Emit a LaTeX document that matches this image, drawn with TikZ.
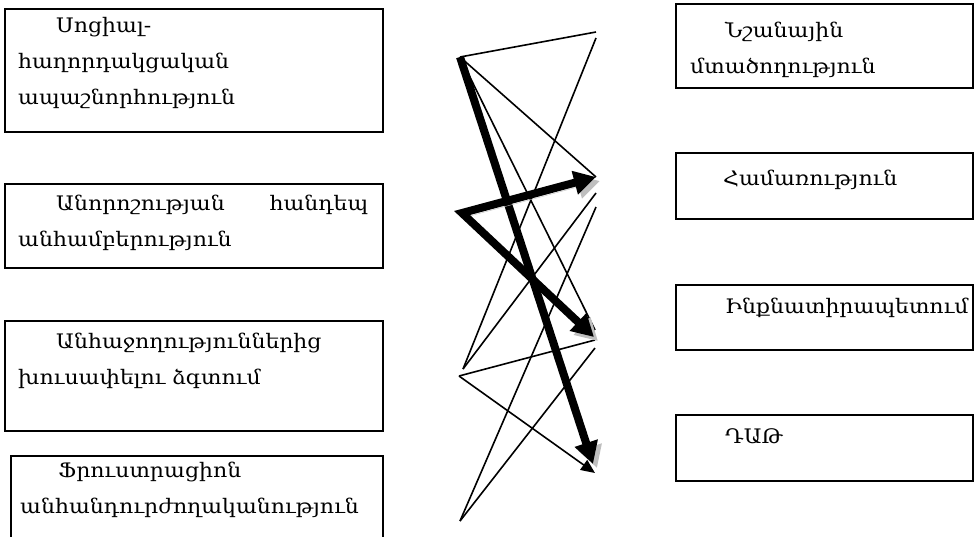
\documentclass[tikz,border=0pt]{standalone}
\usepackage{fontspec}
\newfontfamily\armfont[FakeStretch=1.1]{DejaVu Serif}
\usetikzlibrary{arrows.meta,positioning}

\tikzset{
  box/.style={draw, line width=2.3pt, anchor=north west, inner sep=0pt},
  txt/.style={anchor=base west, inner sep=0pt, align=left,
    font=\armfont\fontsize{20}{36}\selectfont},
  link/.style={line width=1.6pt},
  bigarrow/.style={line width=8pt,
    preaction={draw=gray!50, transform canvas={shift={(4pt,-4pt)}}}},
}

\begin{document}
\begin{tikzpicture}[x=1pt,y=-1pt]
    \useasboundingbox (0,0) rectangle (976,536);
    \def\ind{\hspace*{38pt}}
    % boxes on the left
    \node[box, minimum width=378pt, minimum height=123pt] (soc) at (4,8) {};
    \node[box, minimum width=378pt, minimum height=84pt] (anor) at (4,183) {};
    \node[box, minimum width=378pt, minimum height=110pt] (anha) at (4,320) {};
    \node[box, minimum width=372pt, minimum height=95pt] (fru) at (10,455) {};
    \node[txt, text width=350pt] (soct) at (18,32) {\ind Սոցիալ-\\հաղորդակցական\\ապաշնորհություն};
    \node[txt, text width=350pt] (anort) at (18,210) {\ind Անորոշության\hfill հանդեպ\\անհամբերություն};
    \node[txt, text width=350pt] (anhat) at (18,348) {\ind Անհաջողություններից\\խուսափելու ձգտում};
    \node[txt, text width=350pt] (frut) at (20,477) {\ind Ֆրուստրացիոն\\անհանդուրժողականություն};
    % boxes on the right
    \node[box, minimum width=297pt, minimum height=84pt] (nsh) at (675,3) {};
    \node[box, minimum width=297pt, minimum height=66pt] (ham) at (675,152) {};
    \node[box, minimum width=297pt, minimum height=65pt] (inq) at (675,284) {};
    \node[box, minimum width=297pt, minimum height=66pt] (dat) at (675,414) {};
    \node[txt, text width=270pt] (nsht) at (690,37) {\hspace*{35pt}Նշանային\\մտածողություն};
    \node[txt] (hamt) at (723,185) {Համառություն};
    \node[txt] (inqt) at (725,313) {Ինքնատիրապետում};
    \node[txt] (datt) at (725,443) {ԴԱԹ};
    % end points of the links
    \coordinate (a1) at (460,57);
    \coordinate (a2) at (462,213);
    \coordinate (a3t) at (463,369);
    \coordinate (a3) at (459,376);
    \coordinate (a4) at (460,521);
    \coordinate (b1t) at (596,32);
    \coordinate (b1) at (596,38);
    \coordinate (b2) at (596,177);
    \coordinate (b2m) at (596,193);
    \coordinate (b2l) at (596,207);
    \coordinate (b3t) at (595,330);
    \coordinate (b3) at (594,337);
    \coordinate (b3m) at (595,340);
    \coordinate (b3l) at (595,348);
    \coordinate (b4) at (593,464);
    \coordinate (b4t) at (595,473);
    \draw[link] (a1) -- (b1t);
    \draw[link] (a1) -- (b2);
    \draw[link] (a1) -- (b3t);
    \draw[link] (b1) -- (a3t);
    \draw[link] (b2m) -- (a3t);
    \draw[link] (b2l) -- (a4);
    \draw[link] (b3l) -- (a4);
    \draw[link] (a3) -- (b3m);
    \draw[link, -{Triangle[length=14pt,width=12pt]}] (a3) -- (b4t);
    \draw[bigarrow, -{Triangle[length=22pt,width=23pt]}] (a1) -- (b4);
    \draw[bigarrow, {Triangle[length=22pt,width=23pt]}-{Triangle[length=22pt,width=23pt]}] (b3) -- (a2) -- (b2);
\end{tikzpicture}
\end{document}
